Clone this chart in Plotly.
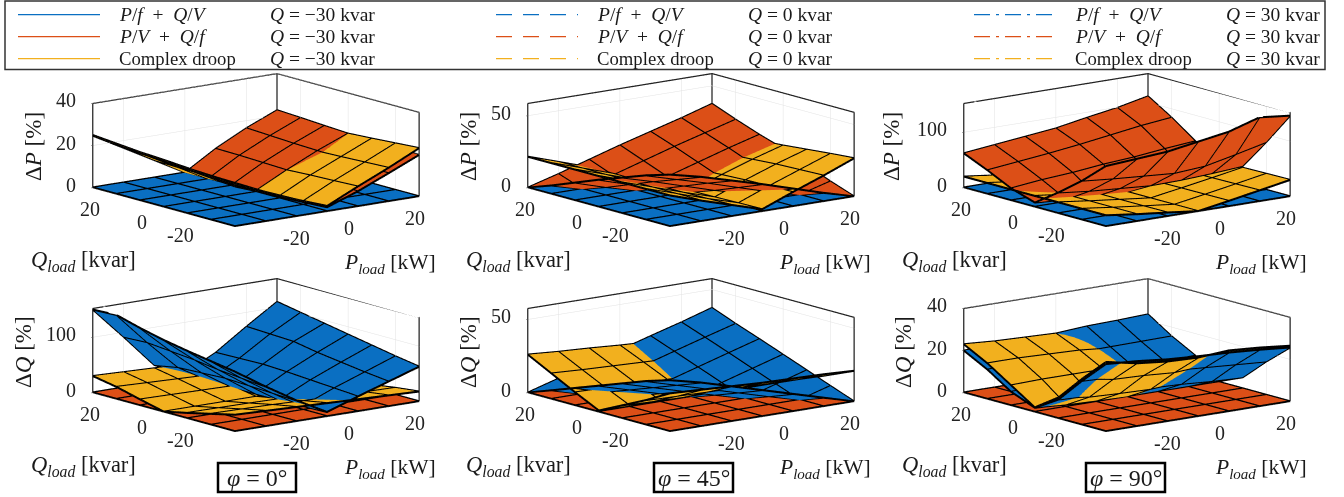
import plotly.graph_objects as go

P = [-30, -20, -10, 0, 10, 20, 30]
Q = [-30, -20, -10, 0, 10, 20, 30]
BLUE, RED, YELLOW = "#0a6fc2", "#dc4f17", "#f2b01e"
FLAT = [[0]*7 for _ in Q]

# every table: rows Q=-30..30, columns P=-30..30
dP0_red = [[19,13.5,8,2,7.2,13.4,19.8],[20,14,7.5,1.4,7.3,13.8,20.1],[21,14.5,7.8,.9,7.4,14.2,20.4],[22,15,8,.6,8,14.8,20.7],[23,15.5,8.2,.4,8.4,15.2,21.3],[24,16,8.4,.2,8.8,15.8,22],[25,16.8,8.5,0,9,16.4,22.6]]
dP0_yel = [[20,14,8,2.6,9.5,16,23],[20.5,14,7.6,1.8,9,15.5,22.2],[21.5,14.5,7.6,1.2,8.6,15,21.4],[22.4,15,7.8,.6,8,14.6,20.7],[23,15.4,8,.3,7.6,14,20],[23.8,16,8.2,.1,7.2,13.2,19],[24.7,16.6,8.4,0,6.8,12.4,18]]
dP45_red = [[36,31,25,19,12.5,6,0],[31,25,19,12.5,6,0,6],[25,19,12.5,6,0,6,12.5],[19,12.5,6,0,6,12.5,19.7],[12.5,6,0,6,12.5,19,25],[6,0,6,12.5,19,25,31],[0,6,12.5,19,25,31,37.5]]
dP45_yel = [[21.5,14.5,8,1.5,10,18,26.6],[21.5,14.5,7.6,1.2,9.6,17.4,25.2],[21.5,14.5,7.4,.8,9.2,16.8,23.6],[21.5,14.4,7.2,.5,8.4,15.6,22],[21.5,14.4,7.2,.3,7.6,14.4,20.8],[21.5,14.4,7.2,.1,7,13.2,19.4],[21.5,14.4,7.2,0,6.4,12.2,18]]
dP90_red = [[109,113,117,126,135,152,146],[71,66,62,58,62,74,87],[38,32,28,24,25,28,32],[8,5,2,0,6,13,20],[22,28,32,38,42,48,53],[43,49,55,62,70,78,84],[62,68,74,80,90,99,111]]
dP90_yel = [[20,13,7,.5,10,20,30],[20,13,6.6,.4,9.6,19.4,29.4],[20,13,6.6,.3,9.4,18.8,28.6],[20,13,6.6,.2,9,18,28],[20,13,6.6,.1,8.6,17,26.6],[20,13,6.6,.1,8,16,25.4],[20,13,6.6,0,7.6,15.2,24]]
dQ0_blu = [[108,72,38,8,27,45,63],[115,76,40,7,30,50,70],[122,80,42,6,33,56,78],[130,86,44,6,36,62,86],[140,90,42,6,38,70,94],[152,94,40,7,37,72,102],[150,92,32,8,36,74,110]]
dQ0_yel = [[30,28,26,24,22,20,18],[20,19,18,16,15,14,13],[10,9.5,9,8,7.5,7,6.5],[.6,.6,.5,.5,.5,.4,.4],[11,10,9,8,7,6,5],[22,20,18,16,14,12,10],[30,28,26,24,22,20,18]]
dQ45_blu = [[35,30,24,18,12,6,0],[30,24,18,12,6,0,6.2],[24,18,12,6,0,6.2,12.5],[18,12,6,0,6.2,12.5,18.8],[12,6,0,6.2,12.5,18.8,25],[6,0,6.2,12.5,18.8,25,31],[0,6.2,12.5,18.8,25,31,37.5]]
dQ45_yel = [[26,25,24,23,22.5,22,21],[17,16.5,16,15.5,15,14.5,14],[9,8.5,8,8,7.5,7.5,7],[1,1,.8,.8,.6,.6,.5],[9,8.4,7.8,7.4,7,6.6,6.4],[17.5,16.4,15.6,14.8,14,13.4,13],[26,24.5,23.4,22,21,20,19.4]]
dQ90_blu = [[32,31,29.5,28.6,28,27,25.7],[21,20.5,20,19,18,17,16],[9,8.5,8,7.5,7,6,5.4],[2,1.5,1,.5,.5,.5,.5],[6.5,7,7.5,8,8.5,9,9.5],[14,14.5,15,15,15.2,15.4,15.6],[20,20.3,20.6,21,22,22.4,23]]
dQ90_yel = [[33,30,28.5,28,29,28,26.5],[22,19.5,19,18,19,18,17],[10,8,7.4,7,8,7,6.4],[2.2,1.2,.7,.3,.8,.8,.8],[9.6,10,10,10,7.9,8.4,8.9],[17,17,16.5,16,14.6,14.8,15],[23,22,21.5,21,21.4,21.8,22.4]]

panels = [
    dict(blue=FLAT, red=dP0_red, yel=dP0_yel, zmax=40, zt=[0,20,40], z="P", cx=256, cy=150, zx=33),
    dict(blue=FLAT, red=dP45_red, yel=dP45_yel, zmax=58.5, zt=[0,50], z="P", cx=691, cy=150, zx=468),
    dict(blue=FLAT, red=dP90_red, yel=dP90_yel, zmax=152, zt=[0,100], z="P", cx=1127, cy=150, zx=891),
    dict(blue=dQ0_blu, red=FLAT, yel=dQ0_yel, zmax=152, zt=[0,100], z="Q", cx=256, cy=355, zx=23),
    dict(blue=dQ45_blu, red=FLAT, yel=dQ45_yel, zmax=57.5, zt=[0,50], z="Q", cx=691, cy=355, zx=468),
    dict(blue=dQ90_blu, red=FLAT, yel=dQ90_yel, zmax=40, zt=[0,20,40], z="Q", cx=1127, cy=355, zx=903),
]
phi_labels = ["0", "45", "90"]
methods = ["<i>P</i>/<i>f</i>\u2002+\u2002<i>Q</i>/<i>V</i>", "<i>P</i>/<i>V</i>\u2002+\u2002<i>Q</i>/<i>f</i>", "Complex droop"]
legend_q = ["−30", "0", "30"]
xy_ticks = [-20, 0, 20]
SERIF = "Liberation Serif"
W, H = 1344, 497
HW, HH = 216, 105
EYE_LEN = 2.0
EYE = (-0.597*EYE_LEN, -0.774*EYE_LEN, 0.2103*EYE_LEN)
SCALE = 2.216
LIFT = 0.0045
LIFT_FLOOR = 0.007

fig = go.Figure()
annots, shapes = [], []

def note(px, py, text, size=19, angle=0, xanchor="center"):
    annots.append(dict(x=px/W, y=1-py/H, xref="paper", yref="paper", text=text, showarrow=False,
                       xanchor=xanchor, yanchor="middle",
                       font=dict(family=SERIF, size=size, color="#1a1a1a"), textangle=angle))

def mesh(z, sc, eps):
    # grid drawn just above and just below the sheet so it shows from either side
    gx, gy, gz = [], [], []
    for d in (eps, -eps):
        for j, q in enumerate(Q):
            gx += P + [None]
            gy += [q]*len(P) + [None]
            gz += [max(v + d, 0) for v in z[j]] + [None]
        for k, v in enumerate(P):
            gx += [v]*len(Q) + [None]
            gy += Q + [None]
            gz += [max(row[k] + d, 0) for row in z] + [None]
    return go.Scatter3d(x=gx, y=gy, z=gz, mode="lines", scene=sc, hoverinfo="skip", showlegend=False,
                        line=dict(color="black", width=2.6))

for i, p in enumerate(panels, 1):
    sc = "scene" if i == 1 else f"scene{i}"
    for z, c in ((p["blue"], BLUE), (p["red"], RED), (p["yel"], YELLOW)):
        fig.add_trace(go.Surface(x=P, y=Q, z=z, scene=sc, showscale=False, hoverinfo="skip",
            colorscale=[[0, c], [1, c]], surfacecolor=[[0]*7 for _ in Q],
            lighting=dict(ambient=1, diffuse=0, specular=0, fresnel=0, roughness=1),
            contours=dict(x=dict(show=False), y=dict(show=False), z=dict(show=False))))
        fig.add_trace(mesh(z, sc, (LIFT_FLOOR if z is FLAT else LIFT)*p["zmax"]))
    a, b, t = P[0], P[-1], p["zmax"]
    bx = [a,a,b,b,b,None,b,a,a,None,a,b,None,b,b]
    by = [b,b,b,a,a,None,a,a,b,None,b,b,None,b,b]
    bz = [0,t,t,t,0,None,0,0,0,None,0,0,None,0,t]
    fig.add_trace(go.Scatter3d(x=bx, y=by, z=bz, mode="lines", scene=sc, hoverinfo="skip", showlegend=False,
                               line=dict(color="#222222", width=2.5)))
    common = dict(showbackground=False, showspikes=False, gridcolor="#e2e2e2", gridwidth=1, zeroline=False,
                  showline=False, title=dict(text=""), showticklabels=False, ticks="outside", ticklen=2, tickcolor="#222222")
    xy = dict(range=[-30, 30], tickmode="array", tickvals=xy_ticks)
    tf = dict(family=SERIF, size=20, color="#222222")
    sa = []
    for v in xy_ticks:
        sa.append(dict(x=a, y=v, z=0, text=str(v), showarrow=False, xanchor="right", yanchor="middle",
                       xshift=-15, yshift=-15, font=tf))
        sa.append(dict(x=v, y=a, z=0, text=str(v), showarrow=False, xanchor="left", yanchor="middle",
                       xshift=15, yshift=-16.7, font=tf))
    for v in p["zt"]:
        sa.append(dict(x=a, y=b, z=v, text=str(v), showarrow=False, xanchor="right", yanchor="middle",
                       xshift=-15, yshift=3, font=tf))
    fig.update_layout(**{sc: dict(
        domain=dict(x=[(p["cx"]-HW)/W, (p["cx"]+HW)/W], y=[1-(p["cy"]+HH)/H, 1-(p["cy"]-HH)/H]),
        aspectmode="manual", aspectratio=dict(x=SCALE, y=SCALE, z=0.37*SCALE),
        camera=dict(eye=dict(x=EYE[0], y=EYE[1], z=EYE[2]), up=dict(x=0, y=0, z=1),
                    center=dict(x=0, y=0, z=0), projection=dict(type="orthographic")),
        xaxis=dict(**common, **xy), yaxis=dict(**common, **xy),
        zaxis=dict(**common, range=[0, p["zmax"]], tickmode="array", tickvals=p["zt"]),
        annotations=sa,
        bgcolor="rgba(0,0,0,0)")})
    note(p["zx"], p["cy"]-3, f"Δ<i>{p['z']}</i> [%]", size=23, angle=-90)
    note(p["cx"]-173, p["cy"]+111, "<i>Q</i><sub><i>load</i></sub> [kvar]", size=22.5)
    note(p["cx"]+134, p["cy"]+113, "<i>P</i><sub><i>load</i></sub> [kW]", size=21.5)

# legend box
shapes.append(dict(type="rect", xref="paper", yref="paper", x0=5/W, x1=1325/W, y0=1-69.5/H, y1=1-1/H,
                   line=dict(color="#333333", width=1.5)))
columns = [(18, 100, 117, 268, "solid"), (496, 578, 595, 746, "16px,11px"), (974, 1057, 1073, 1224, "16px,6px,3px,6px")]
for (x0, x1, tx, qx, dash), qv in zip(columns, legend_q):
    for ry, col, m in zip((14.7, 36.7, 58.7), (BLUE, RED, YELLOW), methods):
        shapes.append(dict(type="line", xref="paper", yref="paper", x0=x0/W, x1=x1/W, y0=1-ry/H, y1=1-ry/H,
                           line=dict(color=col, width=1.2, dash=dash)))
        note(tx, ry, m, size=18.7 if m == methods[2] else 19.5, xanchor="left")
        note(qx, ry, f"<i>Q</i> = {qv} kvar", size=19.5, xanchor="left")

# phi boxes
for (x0, x1), lab in zip(((218, 296), (654, 733), (1086, 1165)), phi_labels):
    shapes.append(dict(type="rect", xref="paper", yref="paper", x0=x0/W, x1=x1/W, y0=1-492/H, y1=1-463/H,
                       line=dict(color="black", width=2.5), fillcolor="white"))
    note((x0+x1)/2, 477.5, f"<i>φ</i> = {lab}°", size=24)

fig.update_layout(width=W, height=H, margin=dict(l=0, r=0, t=0, b=0), showlegend=False,
                  paper_bgcolor="white", annotations=annots, shapes=shapes)
fig.write_html("out.html", post_script="document.body.style.margin='0';", config=dict(displayModeBar=False))
